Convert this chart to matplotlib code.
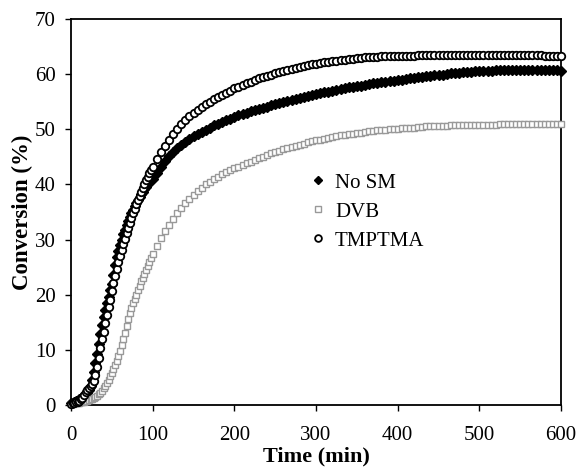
import numpy as np
import matplotlib
matplotlib.use("Agg")
import matplotlib.pyplot as plt

plt.rcParams['font.family'] = ['Liberation Serif', 'DejaVu Serif']

# Time axis: 2 min steps up to 100 min, then 5 min steps
time_min = np.concatenate([np.arange(0, 101, 2), np.arange(105, 601, 5)])

no_sm = [
    0.3, 0.4, 0.5, 0.7, 0.8, 1.0, 1.2, 1.4, 1.6, 1.9, 2.2, 2.8, 3.5, 4.6, 6.0, 7.6,
    9.2, 11.0, 12.8, 14.5, 16.0, 17.3, 18.5, 19.6, 20.8, 22.0, 23.6, 25.3, 26.8, 28.0,
    29.0, 30.0, 31.0, 31.8, 32.6, 33.4, 34.1, 34.8, 35.4, 36.0, 36.6, 37.2, 37.7, 38.2,
    38.7, 39.2, 39.6, 40.0, 40.4, 40.7, 40.9,
    42.1, 43.2, 44.3, 45.2, 45.9, 46.6, 47.2, 47.7, 48.2, 48.7, 49.1, 49.5, 49.9, 50.3,
    50.7, 51.0, 51.3, 51.6, 51.9, 52.2, 52.5, 52.8, 53.0, 53.3, 53.5, 53.7, 53.9, 54.1,
    54.3, 54.5, 54.7, 54.9, 55.1, 55.3, 55.5, 55.7, 55.9, 56.0, 56.2, 56.4, 56.5, 56.7,
    56.8, 57.0, 57.1, 57.3, 57.4, 57.6, 57.7, 57.8, 57.9, 58.1, 58.2, 58.3, 58.4, 58.5,
    58.6, 58.7, 58.8, 58.9, 59.0, 59.1, 59.2, 59.3, 59.4, 59.5, 59.6, 59.7, 59.8, 59.9,
    59.9, 60.0, 60.1, 60.2, 60.2, 60.3, 60.4, 60.4, 60.5, 60.5, 60.6, 60.6, 60.6, 60.7,
    60.7, 60.7, 60.8, 60.8, 60.8, 60.8, 60.8, 60.8, 60.8, 60.8, 60.8, 60.8, 60.8, 60.7,
    60.7, 60.6,
]

dvb = [
    0.2, 0.2, 0.3, 0.3, 0.4, 0.4, 0.5, 0.5, 0.6, 0.7, 0.8, 0.9, 1.0, 1.1, 1.2, 1.4,
    1.6, 1.9, 2.2, 2.6, 3.0, 3.5, 4.0, 4.6, 5.2, 5.8, 6.5, 7.2, 8.0, 8.9, 9.8, 10.8,
    11.9, 13.1, 14.4, 15.6, 16.6, 17.5, 18.4, 19.2, 20.0, 20.8, 21.6, 22.4, 23.1, 23.8,
    24.5, 25.2, 25.9, 26.6, 27.3,
    28.8, 30.2, 31.5, 32.7, 33.8, 34.8, 35.8, 36.6, 37.4, 38.1, 38.8, 39.4, 40.0, 40.5,
    41.0, 41.4, 41.8, 42.2, 42.6, 42.9, 43.2, 43.5, 43.8, 44.1, 44.4, 44.7, 45.0, 45.3,
    45.6, 45.9, 46.1, 46.4, 46.6, 46.8, 47.0, 47.2, 47.4, 47.6, 47.8, 48.0, 48.1, 48.3,
    48.4, 48.6, 48.7, 48.9, 49.0, 49.1, 49.2, 49.3, 49.4, 49.5, 49.6, 49.7, 49.8, 49.9,
    49.9, 50.0, 50.1, 50.1, 50.2, 50.2, 50.3, 50.3, 50.4, 50.4, 50.5, 50.5, 50.5, 50.6,
    50.6, 50.6, 50.7, 50.7, 50.7, 50.7, 50.8, 50.8, 50.8, 50.8, 50.8, 50.8, 50.8, 50.8,
    50.9, 50.9, 50.9, 50.9, 50.9, 50.9, 50.9, 50.9, 50.9, 50.9, 50.9, 50.9, 50.9, 50.9,
    50.9, 50.9,
]

tmptma = [
    0.2, 0.3, 0.4, 0.5, 0.6, 0.8, 1.0, 1.3, 1.8, 2.3, 2.7, 3.1, 3.4, 3.8, 4.4, 5.5,
    6.9, 8.6, 10.4, 11.9, 13.3, 14.8, 16.3, 17.7, 19.1, 20.6, 22.1, 23.4, 24.7, 25.9,
    27.0, 28.1, 29.1, 30.1, 31.1, 32.1, 33.0, 33.9, 34.8, 35.6, 36.4, 37.2, 37.9, 38.6,
    39.3, 40.0, 40.7, 41.4, 42.0, 42.6, 43.2,
    44.6, 45.8, 47.0, 48.1, 49.1, 50.1, 51.0, 51.7, 52.4, 53.0, 53.5, 54.0, 54.5, 55.0,
    55.4, 55.8, 56.2, 56.6, 57.0, 57.4, 57.7, 58.0, 58.3, 58.6, 58.9, 59.2, 59.5, 59.7,
    59.9, 60.1, 60.3, 60.5, 60.7, 60.9, 61.1, 61.3, 61.5, 61.7, 61.8, 61.9, 62.0, 62.1,
    62.2, 62.3, 62.4, 62.5, 62.6, 62.7, 62.8, 62.9, 62.9, 63.0, 63.0, 63.1, 63.1, 63.2,
    63.2, 63.3, 63.3, 63.3, 63.3, 63.3, 63.3, 63.3, 63.4, 63.4, 63.4, 63.4, 63.4, 63.4,
    63.4, 63.4, 63.4, 63.4, 63.4, 63.4, 63.4, 63.4, 63.4, 63.4, 63.4, 63.4, 63.4, 63.4,
    63.4, 63.4, 63.4, 63.4, 63.4, 63.4, 63.4, 63.4, 63.4, 63.4, 63.4, 63.3, 63.3, 63.3,
    63.3, 63.3,
]

fig = plt.figure(figsize=(5.79, 4.72), dpi=100)
ax = fig.add_axes([0.1226, 0.142, 0.8464, 0.818])

ax.plot(time_min, no_sm, linestyle='none', marker='D', markersize=4.8,
        color='black', label='No SM', clip_on=False, zorder=3)
ax.plot(time_min, dvb, linestyle='none', marker='s', markersize=5.0,
        markerfacecolor='white', markeredgecolor='#999999', markeredgewidth=1.0,
        label='DVB', clip_on=False, zorder=3)
ax.plot(time_min, tmptma, linestyle='none', marker='o', markersize=5.4,
        markerfacecolor='white', markeredgecolor='black', markeredgewidth=1.3,
        label='TMPTMA', clip_on=False, zorder=4)

ax.set_xlim(0, 600)
ax.set_ylim(0, 70)
ax.set_xticks(range(0, 601, 100))
ax.set_yticks(range(0, 71, 10))
ax.tick_params(direction='out', length=4, width=1, labelsize=15)
ax.tick_params(axis='x', pad=11)
ax.tick_params(axis='y', pad=7)
for s in ax.spines.values():
    s.set_linewidth(1.3)

ax.set_xlabel('Time (min)', fontsize=16, fontweight='bold', labelpad=1)
ax.set_ylabel('Conversion (%)', fontsize=16.5, fontweight='bold', labelpad=1)

ax.legend(loc='center left', bbox_to_anchor=(0.445, 0.5), frameon=False,
          fontsize=15, handletextpad=0.3, labelspacing=0.45, handlelength=1.0,
          markerscale=0.9)

fig.savefig('out.png', dpi=100)
